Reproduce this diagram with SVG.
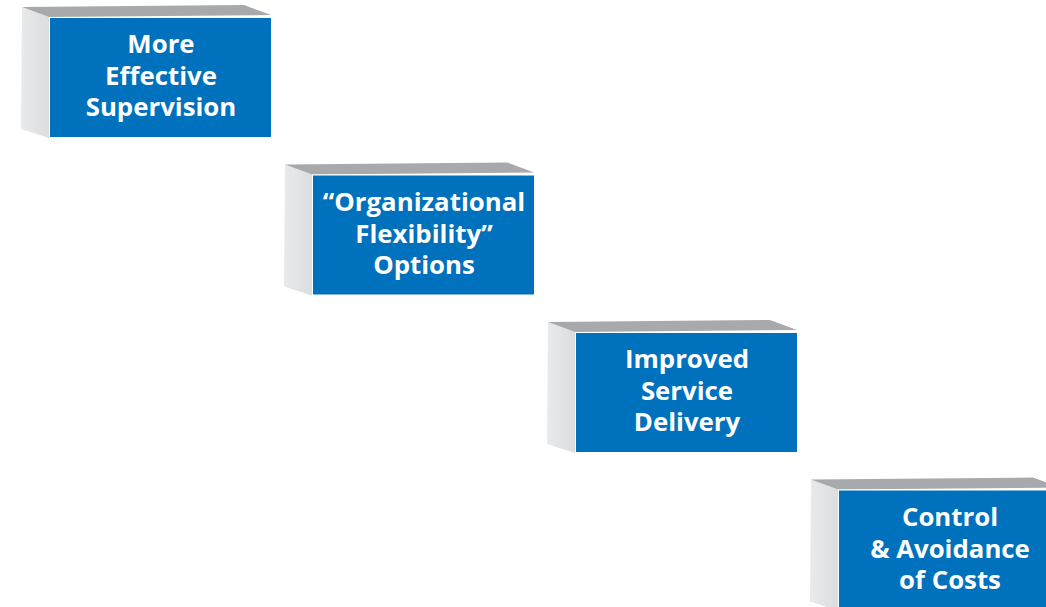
<svg xmlns="http://www.w3.org/2000/svg" width="1046" height="607" viewBox="0 0 1046 607">
<defs>
<style>
.side{fill:#E2E3E4;}
.top{fill:#A7A9AC;}
.front{fill:#0071BC;stroke:#FFFFFF;stroke-width:1;}
.lbl{font-family:"Open Sans","Noto Sans","Liberation Sans",sans-serif;font-weight:bold;font-size:25.8px;fill:#FFFFFF;text-anchor:middle;}
</style>
<linearGradient id="sg" x1="0" y1="0" x2="1" y2="0">
<stop offset="0" stop-color="#E9EAEB"/>
<stop offset="1" stop-color="#DCDDDE"/>
</linearGradient>
<g id="box">
<polygon class="side" style="fill:url(#sg)" points="22,7 49,17 49,138 21,129"/>
<polygon class="top" points="22,7 244,5 271,15 49,17"/>
<rect class="front" x="49.5" y="17.5" width="222" height="120"/>
</g>
</defs>
<rect width="1046" height="607" fill="#FFFFFF"/>
<g id="connectors"></g>
<g id="node1">
<use href="#box"/>
<text class="lbl"><tspan x="161" y="53">More</tspan><tspan x="161" y="85">Effective</tspan><tspan x="161" y="116">Supervision</tspan></text>
</g>
<g id="node2" transform="translate(263,157.5)">
<use href="#box"/>
<text class="lbl"><tspan x="161" y="53">“Organizational</tspan><tspan x="161" y="85">Flexibility”</tspan><tspan x="161" y="116">Options</tspan></text>
</g>
<g id="node3" transform="translate(526,315)">
<use href="#box"/>
<text class="lbl"><tspan x="161" y="53">Improved</tspan><tspan x="161" y="85">Service</tspan><tspan x="161" y="116">Delivery</tspan></text>
</g>
<g id="node4" transform="translate(789,472.5)">
<use href="#box"/>
<text class="lbl"><tspan x="161" y="53">Control</tspan><tspan x="161" y="85">&amp; Avoidance</tspan><tspan x="161" y="116">of Costs</tspan></text>
</g>
</svg>
